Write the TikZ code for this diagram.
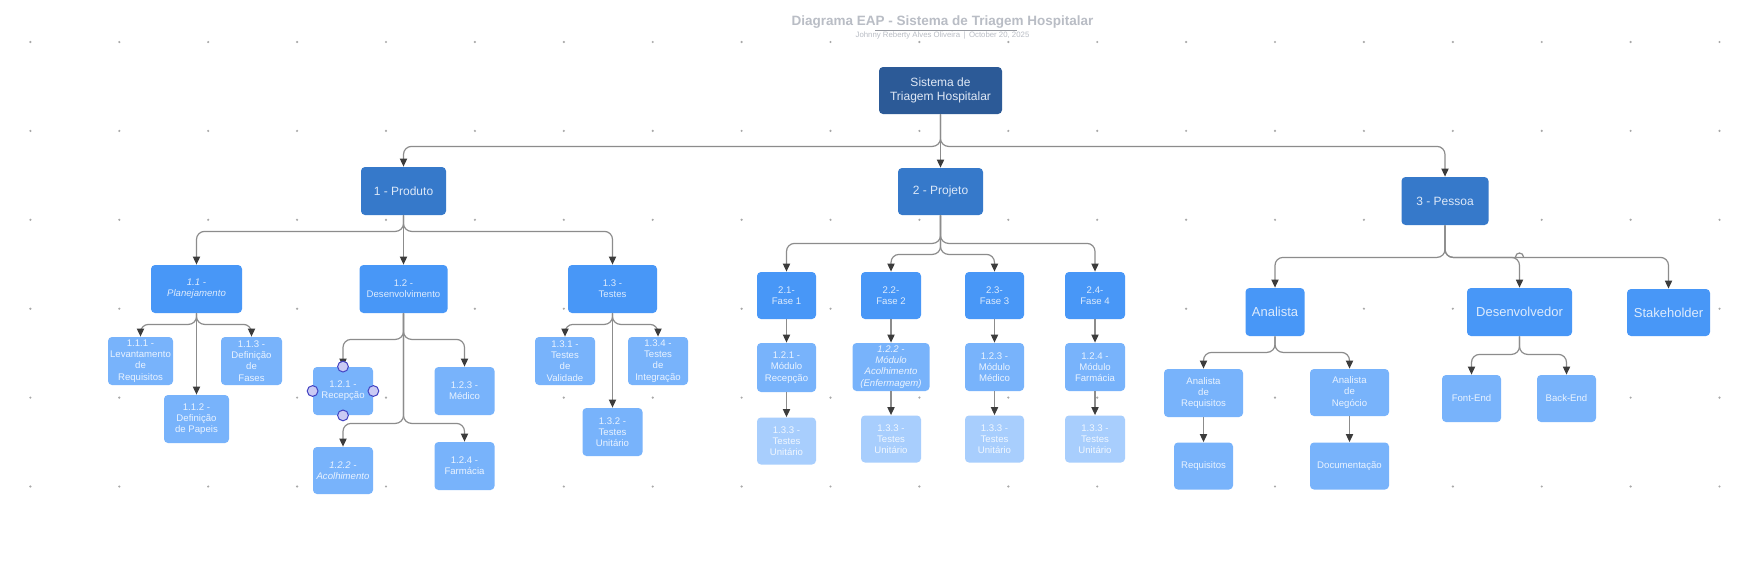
\documentclass[tikz,border=0pt]{standalone}
\usepackage{fontspec}
\setmainfont{Liberation Sans}
\usetikzlibrary{arrows.meta,calc}
\definecolor{c0}{HTML}{2C5A97}
\definecolor{c1}{HTML}{3679CA}
\definecolor{c2}{HTML}{4897F7}
\definecolor{c3}{HTML}{78B3FB}
\definecolor{c4}{HTML}{A8CEFD}
\definecolor{t0}{HTML}{E0E9F6}
\definecolor{t1}{HTML}{DCE8F8}
\definecolor{t2}{HTML}{DDEBFD}
\definecolor{t3}{HTML}{EAF3FF}
\definecolor{t4}{HTML}{F0F7FF}
\definecolor{lc}{HTML}{8C8C8C}
\definecolor{ac}{HTML}{3C3C3C}
\definecolor{dotc}{HTML}{A8A8A8}
\definecolor{ttl}{HTML}{B9BDC5}
\definecolor{hf}{HTML}{CACAF4}
\definecolor{hd}{HTML}{4343C2}
\begin{document}
\begin{tikzpicture}[x=0.5pt,y=-0.5pt,
  box/.style={rectangle,rounded corners=2pt,inner sep=0pt,align=center,font=\fontsize{4.8}{5.6}\selectfont},
  sz/.style 2 args={minimum width=#1*0.5pt,minimum height=#2*0.5pt},
  it/.style={font=\fontsize{4.8}{5.6}\selectfont\itshape},
  lv0/.style={box,fill=c0,text=t0,font=\fontsize{6}{7.2}\selectfont},
  lv1/.style={box,fill=c1,text=t1,font=\fontsize{6}{7.2}\selectfont},
  lv2/.style={box,fill=c2,text=t2},
  lv2b/.style={box,fill=c2,text=t2,font=\fontsize{6.5}{7.5}\selectfont},
  lv3/.style={box,fill=c3,text=t3},
  lv4/.style={box,fill=c4,text=t4},
  conn/.style={draw=lc,line width=0.6pt,rounded corners=4pt,-{Triangle[length=4pt,width=3.6pt,color=ac]}},
  hdl/.style={circle,fill=hf,draw=hd,line width=0.5pt,inner sep=0pt,minimum size=5.4pt}
]
\useasboundingbox (0,0) rectangle (1745,563);
\fill[white] (0,0) rectangle (1745,563);
% dot grid
\foreach \i in {0,...,19}{\foreach \j in {0,...,5}{\fill[dotc] (30.4+88.9*\i,42+88.9*\j) circle (0.6pt);}}
% title
\node[font=\fontsize{6.75}{8}\selectfont\bfseries,text=ttl,inner sep=0pt] (title) at (942.5,22.5) {Diagrama EAP - Sistema de Triagem Hospitalar};
\node[font=\fontsize{3.9}{4.5}\selectfont,text=ttl,inner sep=0pt] (sub) at (942.5,35) {Johnny Reberty Alves Oliveira \,|\, October 20, 2025};
\coordinate (ulA) at (875,30);
\coordinate (ulB) at (1017,30);
\draw[ttl!80!black,line width=0.5pt] (ulA) -- (ulB);
% root and level 1
\node[lv0,sz={123}{47}] (root) at (940.5,90.5) {Sistema de\\Triagem Hospitalar};
\node[lv1,sz={85}{48}] (p1) at (403.5,191) {1 - Produto};
\node[lv1,sz={85}{47}] (p2) at (940.5,191.5) {2 - Projeto};
\node[lv1,sz={87}{48}] (p3) at (1445,201) {3 - Pessoa};
% Produto
\node[lv2,it,sz={91}{48}] (n11) at (196.5,289) {1.1 -\\Planejamento};
\node[lv2,sz={88}{48}] (n12) at (403.5,289) {1.2 -\\Desenvolvimento};
\node[lv2,sz={89}{48}] (n13) at (612.5,289) {1.3 -\\Testes};
\node[lv3,sz={65}{48}] (n111) at (140.5,361) {1.1.1 -\\Levantamento\\de\\Requisitos};
\node[lv3,sz={61}{48}] (n113) at (251.5,361) {1.1.3 -\\Definição\\de\\Fases};
\node[lv3,sz={65}{48}] (n112) at (196.5,419) {1.1.2 -\\Definição\\de Papeis};
\node[lv3,sz={60}{48}] (n121) at (343,391) {1.2.1 -\\Recepção};
\node[lv3,sz={60}{48}] (n123) at (464.5,391) {1.2.3 -\\Médico};
\node[lv3,it,sz={60}{47}] (n122) at (343,470.5) {1.2.2 -\\Acolhimento};
\node[lv3,sz={60}{48}] (n124) at (464.5,466) {1.2.4 -\\Farmácia};
\node[lv3,sz={60}{48}] (n131) at (565,361) {1.3.1 -\\Testes\\de\\Validade};
\node[lv3,sz={60}{48}] (n134) at (658,361) {1.3.4 -\\Testes\\de\\Integração};
\node[lv3,sz={60}{48}] (n132) at (612.5,432) {1.3.2 -\\Testes\\Unitário};
% Projeto
\node[lv2,sz={59}{47}] (f1) at (786.5,295.5) {2.1-\\Fase 1};
\node[lv2,sz={60}{47}] (f2) at (891,295.5) {2.2-\\Fase 2};
\node[lv2,sz={59}{47}] (f3) at (994.5,295.5) {2.3-\\Fase 3};
\node[lv2,sz={60}{47}] (f4) at (1095,295.5) {2.4-\\Fase 4};
\node[lv3,sz={59}{49}] (m1) at (786.5,367.5) {1.2.1 -\\Módulo\\Recepção};
\node[lv3,it,sz={77}{48}] (m2) at (891,367) {1.2.2 -\\Módulo\\Acolhimento\\(Enfermagem)};
\node[lv3,sz={59}{48}] (m3) at (994.5,367) {1.2.3 -\\Módulo\\Médico};
\node[lv3,sz={60}{48}] (m4) at (1095,367) {1.2.4 -\\Módulo\\Farmácia};
\node[lv4,sz={59}{47}] (t1) at (786.5,441) {1.3.3 -\\Testes\\Unitário};
\node[lv4,sz={60}{47}] (t2) at (891,439) {1.3.3 -\\Testes\\Unitário};
\node[lv4,sz={59}{47}] (t3) at (994.5,439) {1.3.3 -\\Testes\\Unitário};
\node[lv4,sz={60}{47}] (t4) at (1095,439) {1.3.3 -\\Testes\\Unitário};
% Pessoa
\node[lv2b,sz={59}{48}] (an) at (1275,312) {Analista};
\node[lv2b,sz={105}{48}] (dev) at (1519.5,312) {Desenvolvedor};
\node[lv2b,sz={83}{47}] (stk) at (1668.5,312.5) {Stakeholder};
\node[lv3,sz={79}{48}] (ar) at (1203.5,393) {Analista\\de\\Requisitos};
\node[lv3,sz={79}{47}] (ang) at (1349.5,392.5) {Analista\\de\\Negócio};
\node[lv3,sz={59}{47}] (req) at (1203.5,466) {Requisitos};
\node[lv3,sz={79}{47}] (doc) at (1349.5,466) {Documentação};
\node[lv3,sz={59}{47}] (fe) at (1471.5,398.5) {Font-End};
\node[lv3,sz={59}{47}] (be) at (1566.5,398.5) {Back-End};
% connectors root
\draw[conn] (root.south) -- ++(0,32) -| (p1.north);
\draw[conn] (root.south) -- (p2.north);
\draw[conn] (root.south) -- ++(0,32) -| (p3.north);
% Produto
\draw[conn] (p1.south) -- ++(0,16) -| (n11.north);
\draw[conn] (p1.south) -- (n12.north);
\draw[conn] (p1.south) -- ++(0,16) -| (n13.north);
\draw[conn] (n11.south) -- ++(0,11) -| (n111.north);
\draw[conn] (n11.south) -- ++(0,11) -| (n113.north);
\draw[conn] (n11.south) -- (n112.north);
\draw[conn] (n12.south) -- ++(0,26) -| (n121.north);
\draw[conn] (n12.south) -- ++(0,26) -| (n123.north);
\draw[conn] (n12.south) -- ++(0,110) -| (n122.north);
\draw[conn] (n12.south) -- ++(0,110) -| (n124.north);
\draw[conn] (n13.south) -- ++(0,11) -| (n131.north);
\draw[conn] (n13.south) -- ++(0,11) -| (n134.north);
\draw[conn] (n13.south) -- (n132.north);
% Projeto
\draw[conn] (p2.south) -- ++(0,28) -| (f1.north);
\draw[conn] (p2.south) -- ++(0,28) -| (f4.north);
\draw[conn] (p2.south) -- ++(0,39) -| (f2.north);
\draw[conn] (p2.south) -- ++(0,39) -| (f3.north);
\foreach \k in {1,2,3,4}{
  \draw[conn] (f\k.south) -- (m\k.north);
  \draw[conn] (m\k.south) -- (t\k.north);
}
% Pessoa
\coordinate (hy) at (0,257);
\draw[conn] (p3.south) -- ++(0,32) -| (an.north);
\draw[conn] (p3.south) -- ++(0,32) -| (dev.north);
\draw[conn] (p3.south) -- ++(0,32) -| (stk.north);
\draw[lc,line width=0.6pt] ([xshift=-2pt]dev.north |- hy) arc[start angle=180,end angle=0,radius=2pt];
\draw[conn] (an.south) -- ++(0,16) -| (ar.north);
\draw[conn] (an.south) -- ++(0,16) -| (ang.north);
\draw[conn] (ar.south) -- (req.north);
\draw[conn] (ang.south) -- (doc.north);
\draw[conn] (dev.south) -- ++(0,18) -| (fe.north);
\draw[conn] (dev.south) -- ++(0,18) -| (be.north);
% selection handles on 1.2.1
\node[hdl] (h1) at (n121.north) {};
\node[hdl] (h2) at (n121.west) {};
\node[hdl] (h3) at (n121.east) {};
\node[hdl] (h4) at (n121.south) {};
\end{tikzpicture}
\end{document}
